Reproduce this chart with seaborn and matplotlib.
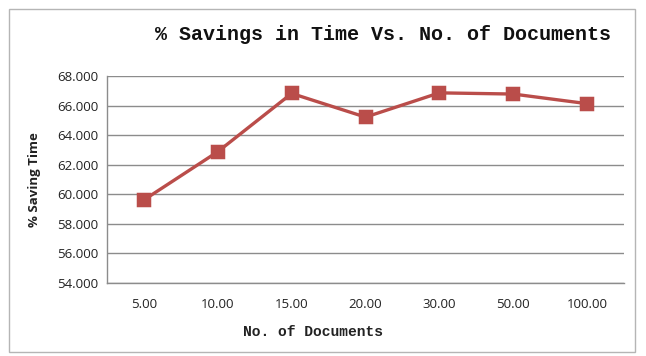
import matplotlib
matplotlib.use("Agg")
import matplotlib.pyplot as plt
import seaborn as sns
from matplotlib.patches import Rectangle

# Data
doc_labels = ["5.00", "10.00", "15.00", "20.00", "30.00", "50.00", "100.00"]
savings = [59.62, 62.88, 66.82, 65.22, 66.86, 66.78, 66.13]
y_ticks = [54, 56, 58, 60, 62, 64, 66, 68]

sns.set_style("white")
plt.rcParams['font.family'] = ['Open Sans', 'DejaVu Sans']

fig = plt.figure(figsize=(6.46, 3.56), dpi=100)
ax = fig.add_axes([0.1656, 0.205, 0.8004, 0.5815])

# chart border
fig.add_artist(Rectangle((0.014, 0.01), 0.969, 0.965, transform=fig.transFigure,
                         fill=False, edgecolor="#b5b5b5", linewidth=1.0))

sns.pointplot(x=doc_labels, y=savings, ax=ax, color="#BA4D4A", markers="s",
              linestyles="-", markersize=8, linewidth=2.4)

ax.set_xlim(-0.5, len(doc_labels) - 0.5)
ax.set_ylim(54, 68)
ax.set_yticks(y_ticks)
ax.set_yticklabels([f"{v:.3f}" for v in y_ticks], fontsize=9.5, color="#222222")
ax.tick_params(axis="x", labelsize=9.5, colors="#222222", pad=11, length=0)
ax.tick_params(axis="y", pad=6, length=0)
ax.yaxis.grid(True, color="#8c8c8c", linewidth=1.0)
ax.set_axisbelow(True)

for side in ["top", "right"]:
    ax.spines[side].set_visible(False)
for side in ["left", "bottom"]:
    ax.spines[side].set_color("#8c8c8c")
    ax.spines[side].set_linewidth(1.0)

ax.set_xlabel("")
ax.set_ylabel("")
fig.text(0.054, 0.495, "% Saving Time", rotation=90, ha="center", va="center",
         fontsize=9.5, fontweight="bold", color="#222222")
fig.text(0.485, 0.068, "No. of Documents", ha="center", va="center",
         fontsize=10.5, fontweight="bold", family="Liberation Mono", color="#222222")
fig.text(0.593, 0.902, "% Savings in Time Vs. No. of Documents", ha="center", va="center",
         fontsize=14.4, fontweight="bold", family="Liberation Mono", color="#111111")

fig.savefig("out.png", dpi=100)
